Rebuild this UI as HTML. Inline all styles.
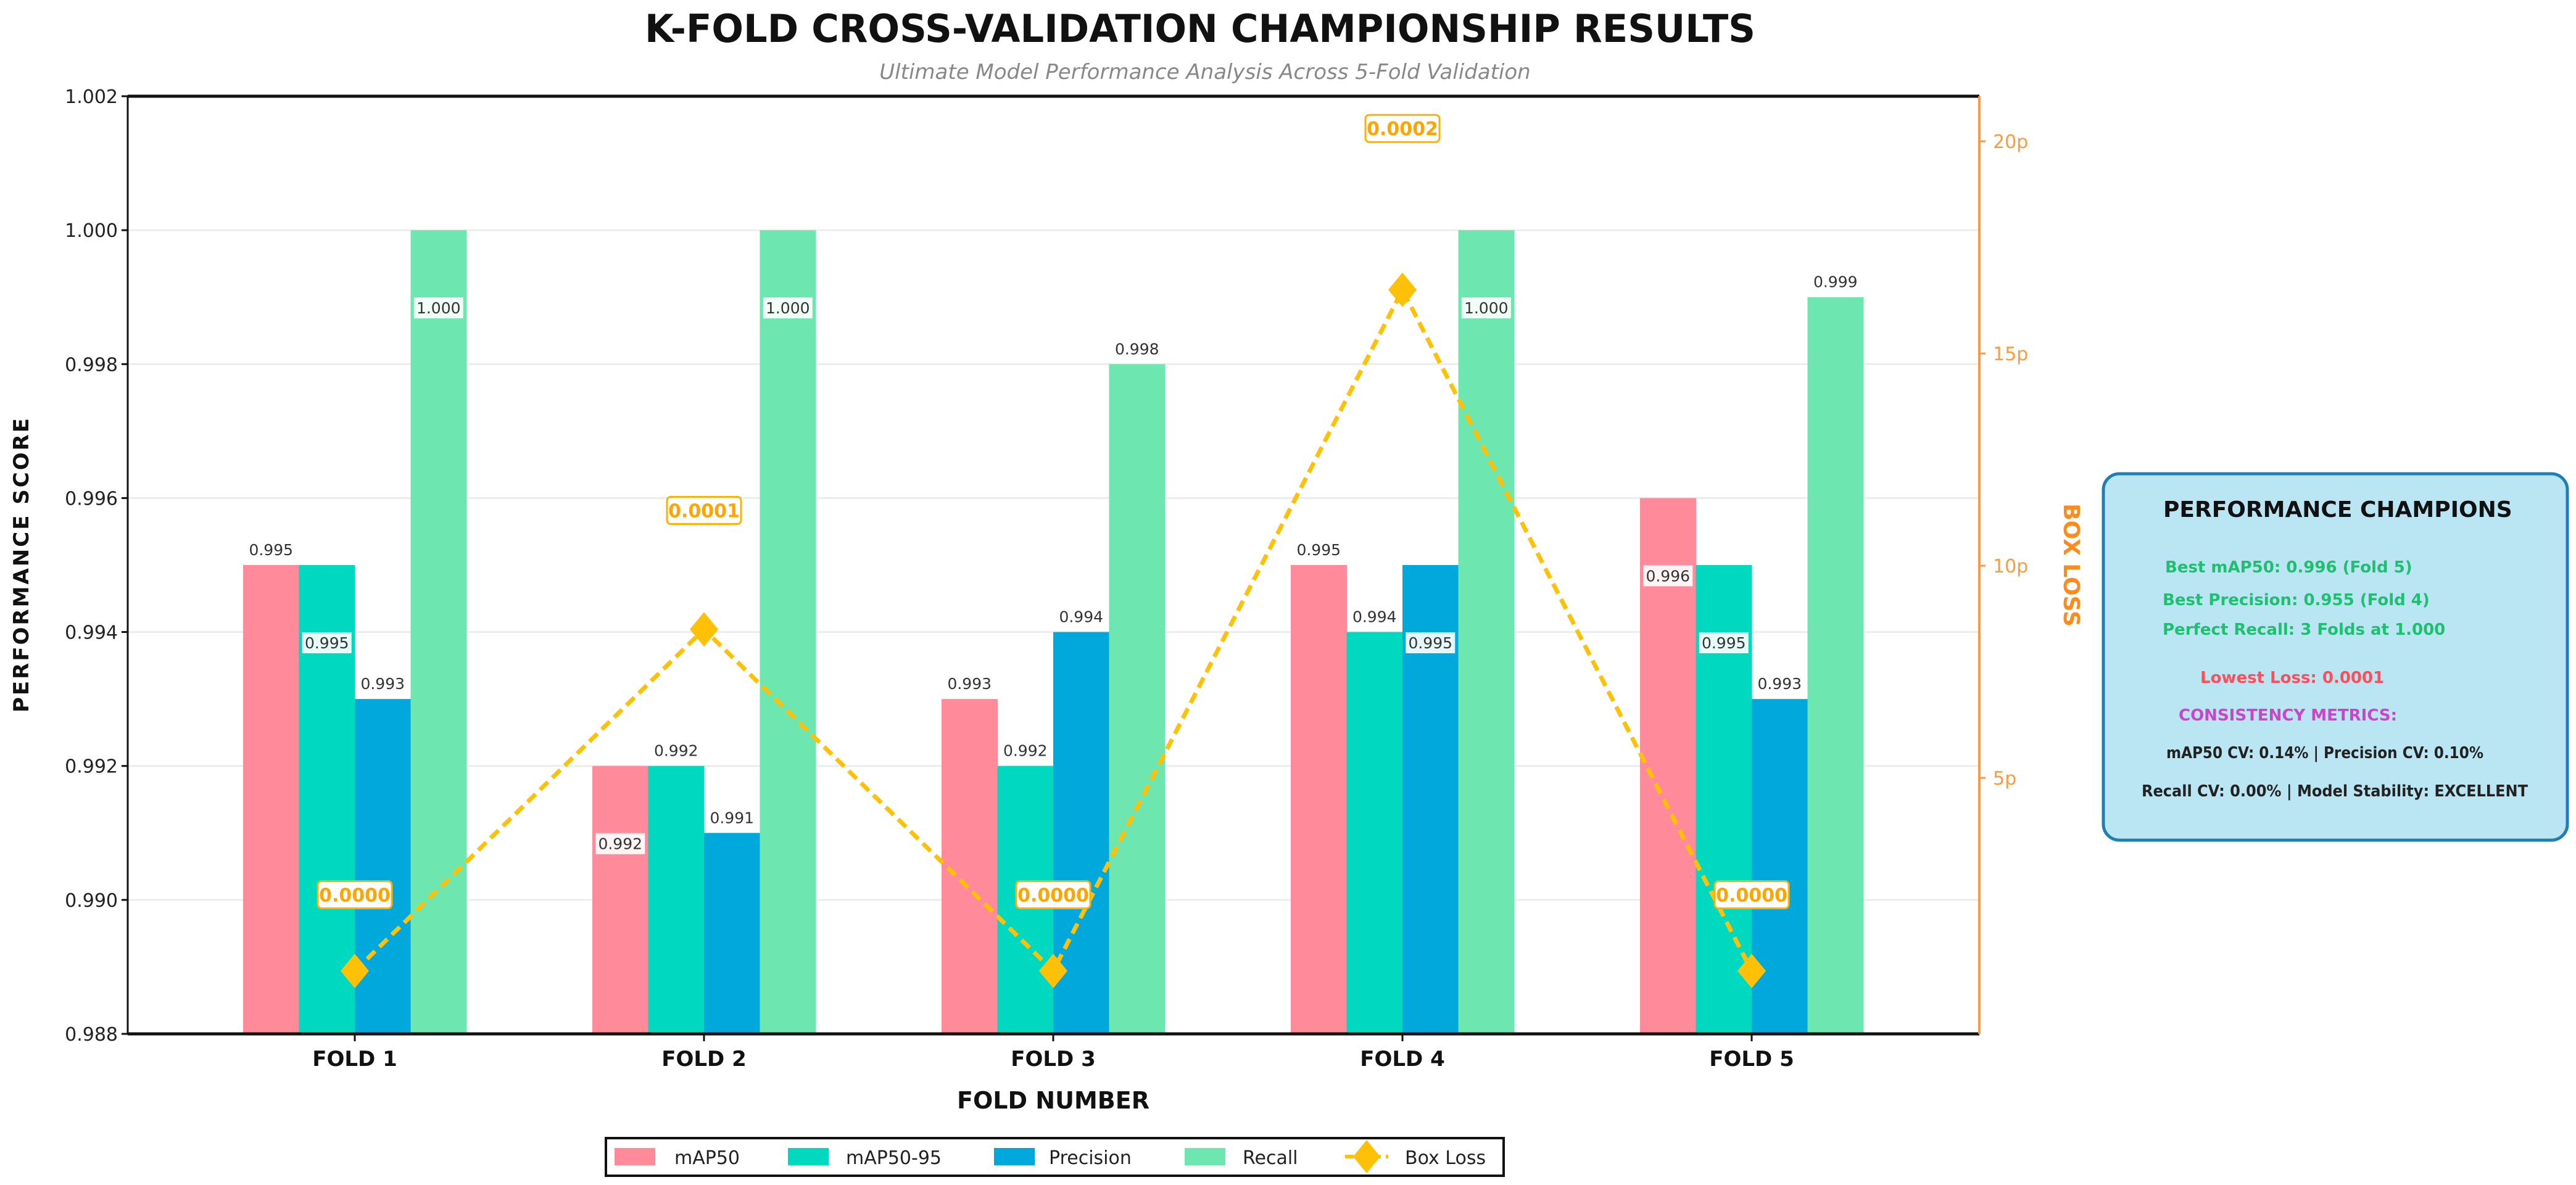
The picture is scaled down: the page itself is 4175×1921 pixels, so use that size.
<!DOCTYPE html>
<html><head><meta charset="utf-8"><style>
html,body{margin:0;padding:0;background:#fff;}
svg{display:block;font-family:"DejaVu Sans","Liberation Sans",sans-serif;}
</style></head><body>
<svg id="chart" width="4175" height="1921" viewBox="0 0 4175 1921" xmlns="http://www.w3.org/2000/svg">
<rect width="4175" height="1921" fill="#fff"/>
<text x="1945" y="68" text-anchor="middle" font-size="62" font-weight="bold" fill="#111" textLength="1800" lengthAdjust="spacingAndGlyphs">K-FOLD CROSS-VALIDATION CHAMPIONSHIP RESULTS</text>
<text x="1953" y="128" text-anchor="middle" font-size="34" font-style="italic" fill="#888">Ultimate Model Performance Analysis Across 5-Fold Validation</text>
<g id="grid"></g><g id="bars"></g><g id="loss"></g><g id="axes"></g>
<text transform="translate(46,915) rotate(-90)" text-anchor="middle" font-size="34" font-weight="bold" fill="#111" letter-spacing="3">PERFORMANCE SCORE</text>
<text transform="translate(3345,916) rotate(90)" text-anchor="middle" font-size="36" font-weight="bold" fill="#ff8c1a">BOX LOSS</text>
<text x="1707" y="1797" text-anchor="middle" font-size="38" font-weight="bold" fill="#111">FOLD NUMBER</text>
<g>
<rect x="982" y="1845" width="1455" height="61" fill="#fff" stroke="#111" stroke-width="4"/>
<rect x="996" y="1861" width="66" height="28" fill="#ff8a9a"/><text x="1093" y="1887" font-size="30" fill="#222">mAP50</text>
<rect x="1277" y="1861" width="66" height="28" fill="#00d9c0"/><text x="1371" y="1887" font-size="30" fill="#222">mAP50-95</text>
<rect x="1611" y="1861" width="66" height="28" fill="#00a8dc"/><text x="1700" y="1887" font-size="30" fill="#222">Precision</text>
<rect x="1920" y="1861" width="66" height="28" fill="#6ee6b0"/><text x="2014" y="1887" font-size="30" fill="#222">Recall</text>
<line x1="2180" y1="1875" x2="2250" y2="1875" stroke="#ffc107" stroke-width="6" stroke-dasharray="14,8"/>
<polygon points="2215,1848 2237,1875 2215,1902 2193,1875" fill="#ffc107"/><text x="2277" y="1887" font-size="30" fill="#222">Box Loss</text>
</g>
<g>
<rect x="3409" y="768" width="752" height="594" rx="26" fill="#b9e6f2" stroke="#1f7fb5" stroke-width="5"/>
<text x="3506" y="838" font-size="36" font-weight="bold" fill="#111">PERFORMANCE CHAMPIONS</text>
<text x="3509" y="928" font-size="26" font-weight="bold" fill="#1ec070">Best mAP50: 0.996 (Fold 5)</text>
<text x="3505" y="981" font-size="26" font-weight="bold" fill="#1ec070">Best Precision: 0.955 (Fold 4)</text>
<text x="3505" y="1029" font-size="26" font-weight="bold" fill="#1ec070">Perfect Recall: 3 Folds at 1.000</text>
<text x="3566" y="1107" font-size="26" font-weight="bold" fill="#ff4d5a">Lowest Loss: 0.0001</text>
<text x="3531" y="1168" font-size="26" font-weight="bold" fill="#cc44cc">CONSISTENCY METRICS:</text>
<text x="3511" y="1229" font-size="26" font-weight="bold" fill="#222" textLength="514" lengthAdjust="spacingAndGlyphs">mAP50 CV: 0.14% | Precision CV: 0.10%</text>
<text x="3471" y="1291" font-size="26" font-weight="bold" fill="#222" textLength="626" lengthAdjust="spacingAndGlyphs">Recall CV: 0.00% | Model Stability: EXCELLENT</text>
</g>
</svg>
<script>
const folds = ["FOLD 1","FOLD 2","FOLD 3","FOLD 4","FOLD 5"];
const seriesNames = ["mAP50","mAP50-95","Precision","Recall"];
const map50 = [0.995,0.992,0.993,0.995,0.996];
const map5095 = [0.995,0.992,0.992,0.994,0.995];
const precision = [0.993,0.991,0.994,0.995,0.993];
const recall = [1.000,1.000,0.998,1.000,0.999];
const boxLoss = [0.45,8.5,0.45,16.5,0.45];
const lossLabels = ["0.0000","0.0001","0.0000","0.0002","0.0000"];
const insideMap50 = [0,1,0,0,1];
const insideMap5095 = [1,0,0,0,1];
const insidePrecision = [0,0,0,1,0];
const insideRecall = [1,1,0,1,0];
const yTicks = [0.988,0.990,0.992,0.994,0.996,0.998,1.000,1.002];
const y2Ticks = [5,10,15,20];

const NS="http://www.w3.org/2000/svg";
const L=207,R=3208,T=156,B=1676;
const yMin=0.988,yMax=1.002;
function y(v){return B-(v-yMin)/(yMax-yMin)*(B-T);}
function y2(v){return 1605-v*68.8;}
function xc(i){return 575+i*566;}
const bw=90.5;
function mk(tag,attrs,parent){const e=document.createElementNS(NS,tag);for(const k in attrs)e.setAttribute(k,attrs[k]);parent.appendChild(e);return e;}
const grid=document.getElementById('grid'),bars=document.getElementById('bars'),loss=document.getElementById('loss'),axes=document.getElementById('axes');
yTicks.forEach(t=>{
  const g=mk('line',{x1:L,x2:R,y1:y(t),y2:y(t),stroke:'#ececec','stroke-width':3},grid);
  
  
  mk('line',{x1:L-10,x2:L,y1:y(t),y2:y(t),stroke:'#111','stroke-width':3},axes);
  const tx=mk('text',{x:L-16,y:y(t)+11,'text-anchor':'end','font-size':30,fill:'#222'},axes);
  tx.textContent=t.toFixed(3);
  
  
});
y2Ticks.forEach(t=>{
  mk('line',{x1:R,x2:R+10,y1:y2(t),y2:y2(t),stroke:'#ff9a3c','stroke-width':3},axes);
  const tx=mk('text',{x:R+22,y:y2(t)+11,'font-size':30,fill:'#ff9a3c'},axes);
  tx.textContent=t+'p';
  
  
});
const series=[map50,map5095,precision,recall];
const inside=[insideMap50,insideMap5095,insidePrecision,insideRecall];
const colors=['#ff8a9a','#00d9c0','#00a8dc','#6ee6b0'];
const labelQueue=[];
folds.forEach((f,i)=>{
  series.forEach((s,j)=>{
    const x0=xc(i)+(j-2)*bw;
    const r=mk('rect',{x:x0,y:y(s[i]),width:bw+0.5,height:B-y(s[i]),fill:colors[j]},bars);
    
    
    labelQueue.push([x0+bw/2,s[i],inside[j][i]]);
  });
  mk('line',{x1:xc(i),x2:xc(i),y1:B,y2:B+12,stroke:'#111','stroke-width':3},axes);
  const ft=mk('text',{x:xc(i),y:1728,'text-anchor':'middle','font-size':34,'font-weight':'bold',fill:'#111'},axes);
  ft.textContent=f;
  
  
});
labelQueue.forEach(([cx,v,ins])=>{
  const ly=ins?y(v)+135:y(v)-16;
  if(ins){mk('rect',{x:cx-40,y:ly-26,width:80,height:34,fill:'#fff',opacity:0.9},bars);}
  const t=mk('text',{x:cx,y:ly,'text-anchor':'middle','font-size':25,fill:'#333'},bars);
  t.textContent=v.toFixed(3);
  
  
});
const pts=boxLoss.map((v,i)=>xc(i)+','+y2(v)).join(' ');
const pl=mk('polyline',{points:pts,fill:'none',stroke:'#ffc107','stroke-width':7,'stroke-dasharray':'18,10'},loss);


boxLoss.forEach((v,i)=>{
  const cx=xc(i),cy=y2(v);
  const d=mk('polygon',{points:`${cx},${cy-28} ${cx+23},${cy} ${cx},${cy+28} ${cx-23},${cy}`,fill:'#ffc107'},loss);
  
  
  const ly=y2(v*1.125+1.74);
  mk('rect',{x:cx-60,y:ly-22,width:120,height:44,rx:6,fill:'#fff',stroke:'#ffb000','stroke-width':3},loss);
  const t=mk('text',{x:cx,y:ly+11,'text-anchor':'middle','font-size':30,'font-weight':'bold',fill:'#ffa500'},loss);
  t.textContent=lossLabels[i];
  
  
});
mk('line',{x1:L,x2:R,y1:T,y2:T,stroke:'#111','stroke-width':5},axes);
mk('line',{x1:L,x2:R,y1:B,y2:B,stroke:'#111','stroke-width':5},axes);
mk('line',{x1:L,x2:L,y1:T,y2:B,stroke:'#111','stroke-width':3},axes);
mk('line',{x1:R,x2:R,y1:T,y2:B,stroke:'#ff9a3c','stroke-width':4},axes);
</script>
</body></html>
